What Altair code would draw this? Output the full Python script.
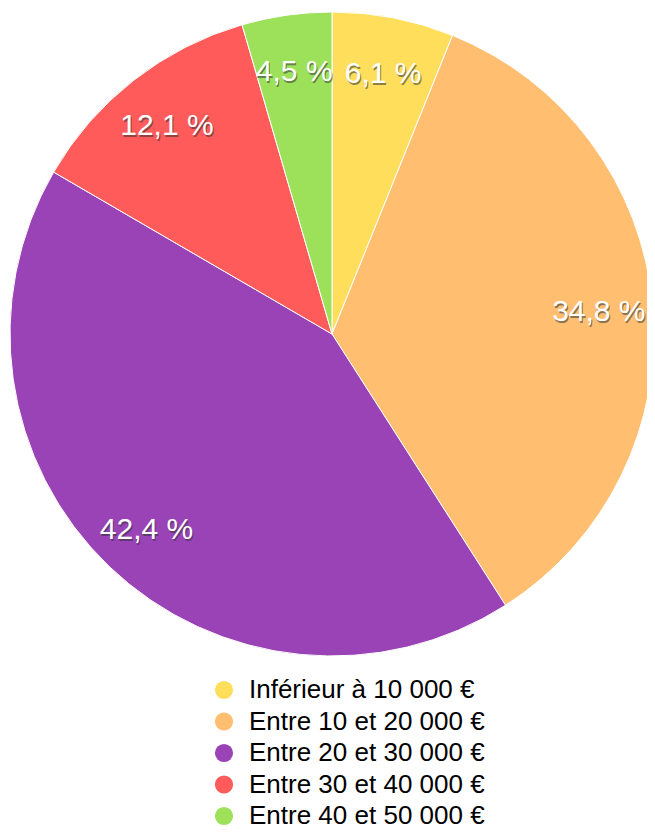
import altair as alt
import pandas as pd

categories = ["Inférieur à 10 000 €", "Entre 10 et 20 000 €", "Entre 20 et 30 000 €",
              "Entre 30 et 40 000 €", "Entre 40 et 50 000 €"]
values = [6.1, 34.8, 42.4, 12.1, 4.5]
labels = ["6,1 %", "34,8 %", "42,4 %", "12,1 %", "4,5 %"]
colors = ["#FFDE5C", "#FFBE70", "#9A43B6", "#FF5B5B", "#9DE15A"]

df = pd.DataFrame({"cat": categories, "val": values, "lab": labels, "order": list(range(len(values)))})

CX, CY, R = 324, 326, 322

base = alt.Chart(df).encode(
    theta=alt.Theta("val:Q", stack=True),
    order=alt.Order("order:Q"),
)

color = alt.Color("cat:N", sort=categories,
                  scale=alt.Scale(domain=categories, range=colors),
                  legend=alt.Legend(title=None, orient="none", legendX=203, legendY=669,
                                    symbolType="circle", symbolSize=330, symbolStrokeWidth=0,
                                    labelFontSize=26, labelFont="Liberation Sans", labelColor="#000",
                                    labelLimit=400, rowPadding=5.5, labelOffset=12))

arcs = base.mark_arc(outerRadius=R, stroke="white", strokeWidth=1).encode(
    color=color, x=alt.value(CX), y=alt.value(CY))

shadow = base.mark_text(radius=268, fontSize=30, font="Liberation Sans", color="#333333",
                        opacity=0.55, dx=1, dy=5).encode(
    text="lab:N", x=alt.value(CX), y=alt.value(CY))
txt = base.mark_text(radius=268, fontSize=30, font="Liberation Sans", color="white", dy=3).encode(
    text="lab:N", x=alt.value(CX), y=alt.value(CY))

chart = alt.layer(arcs, shadow, txt).properties(
    width=639, height=818, autosize=alt.AutoSizeParams(type="none"), padding=0
).configure_view(stroke=None)

chart.save("out.html", embed_options={"renderer": "svg", "actions": False})
